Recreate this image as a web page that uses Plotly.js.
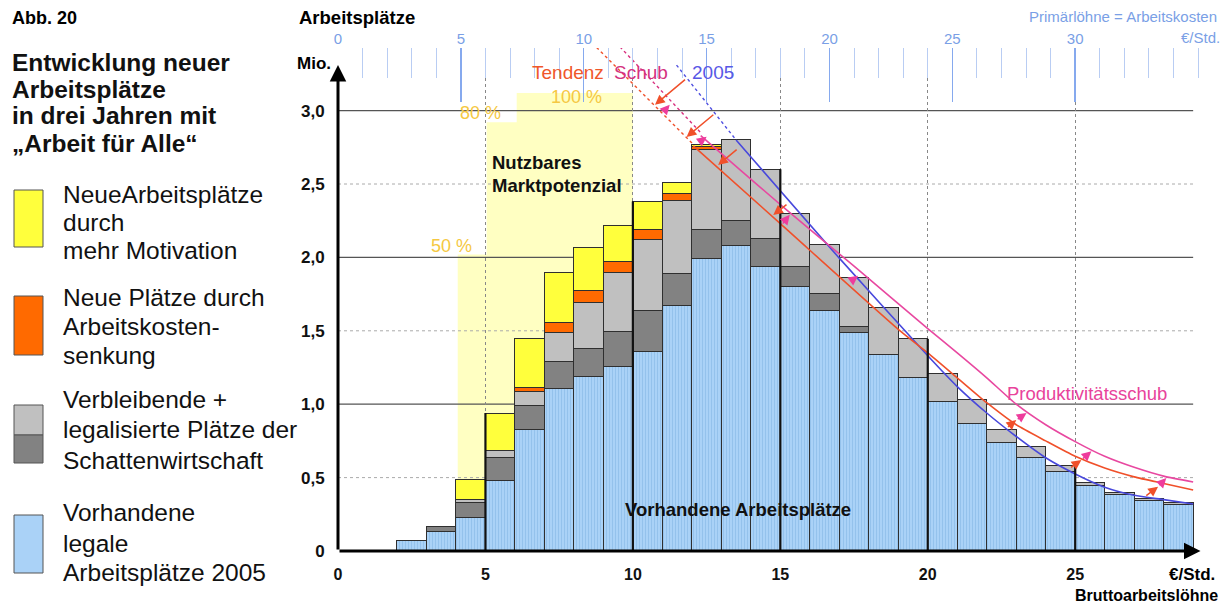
<!DOCTYPE html>
<html><head><meta charset="utf-8">
<script src="https://cdn.plot.ly/plotly-3.0.1.min.js"></script>
<style>html,body{margin:0;padding:0;background:#fff}#chart{width:1222px;height:604px}</style>
</head><body><div id="chart"></div>
<script>
// ---------- data ----------
const lohnVon = [2,3,4,5,6,7,8,9,10,11,12,13,14,15,16,17,18,19,20,21,22,23,24,25,26,27,28];
const vorhanden = [0.07,0.13,0.23,0.48,0.83,1.11,1.19,1.26,1.36,1.67,1.99,2.08,1.94,1.80,1.64,1.49,1.34,1.18,1.02,0.87,0.74,0.64,0.54,0.445,0.385,0.345,0.32];
const schatten = [0,0.035,0.10,0.155,0.16,0.18,0.19,0.235,0.275,0.22,0.20,0.17,0.19,0.14,0.115,0.04,0,0,0,0,0,0,0,0,0,0,0];
const verbleibend = [0,0.005,0.02,0.05,0.095,0.20,0.31,0.40,0.49,0.50,0.545,0.55,0.47,0.36,0.33,0.33,0.32,0.265,0.19,0.16,0.09,0.07,0.045,0.02,0.012,0.01,0.01];
const kostensenkung = [0,0,0,0,0.03,0.065,0.085,0.08,0.065,0.045,0.023,0,0,0,0,0,0,0,0,0,0,0,0,0,0,0,0];
const motivation = [0,0,0.14,0.255,0.33,0.345,0.29,0.245,0.19,0.075,0.01,0,0,0,0,0,0,0,0,0,0,0,0,0,0,0,0];

const yTickVals = [0,0.5,1,1.5,2,2.5,3];
const yTickText = ['0','0,5','1,0','1,5','2,0','2,5','3,0'];
const xTickVals = [0,5,10,15,20,25];
const xTickText = ['0','5','10','15','20','25'];
const topTickVals = [0,5,10,15,20,25,30];
const topTickText = ['0','5','10','15','20','25','30'];

// Kurven
const kurve2005DashX = [11.48,13.5];
const kurve2005DashY = [3.31,2.80];
const kurve2005X = [13.5,17,20,21,22,23,24,25,26,27,28,29];
const kurve2005Y = [2.80,1.995,1.33,1.12,0.94,0.78,0.635,0.525,0.435,0.38,0.35,0.32];
const tendenzDashX = [8.77,12.05];
const tendenzDashY = [3.43,2.77];
const tendenzX = [12.05,15,19,20,21,22,23,24,25,26,27,28,29];
const tendenzY = [2.76,2.23,1.51,1.35,1.18,1.01,0.86,0.75,0.645,0.565,0.505,0.46,0.416];
const schubDashX = [9.56,12.3];
const schubDashY = [3.435,2.85];
const schubX = [12.3,15,17.5,20,21,22,23,24,25,26,27,28,29];
const schubY = [2.83,2.36,1.94,1.515,1.35,1.18,1.0,0.86,0.745,0.645,0.57,0.51,0.47];

// Pfeile [xVon, yVon, xNach, yNach]
const pfeileTendenz = [[11.82,3.22,10.75,3.04],[12.78,2.98,11.82,2.82],[13.57,2.743,12.89,2.63],[15.26,2.368,14.76,2.289],
  [22.67,0.836,23.0,0.892],[24.81,0.563,25.21,0.62],[27.36,0.37,27.81,0.438]];
const pfeileSchub = [[11.03,2.99,11.25,3.04],[12.21,2.777,12.5,2.822],[15.04,2.22,15.32,2.29],[17.36,1.834,17.64,1.875],
  [23.0,0.892,23.35,0.94],[25.21,0.62,25.55,0.68],[27.81,0.438,28.09,0.497]];

// ---------- layout helpers ----------
const W=1222,H=604,L=338,R=20,T=48,B=53;
const PW=W-L-R, PH=H-T-B;
const px=(x)=>(x-L)/PW, py=(y)=>(H-B-y)/PH;
const FONT='Liberation Sans, Arial, sans-serif';
function txt(text,x,y,o={}){
  return {xref:'paper',yref:'paper',x:px(x),y:py(y),text:text,showarrow:false,
    xanchor:o.xa||'left',yanchor:'middle',
    font:{family:FONT,size:o.size||15,color:o.color||'#000',weight:o.bold?'bold':'normal'}};
}

const nn = a => a.map(v => v===0?null:v);
const barBase = {type:'bar',x:lohnVon,width:1,offset:0,hoverinfo:'skip'};
const traces = [
  Object.assign({},barBase,{y:vorhanden,name:'Vorhandene legale Arbeitsplätze 2005',
    marker:{color:'#aad2f7',line:{color:'#2f2f2f',width:1},
      pattern:{shape:'|',size:3,solidity:0.25,fgcolor:'#8cbce8',bgcolor:'#aad2f7',fillmode:'replace'}}}),
  Object.assign({},barBase,{y:nn(schatten),name:'legalisierte Plätze der Schattenwirtschaft',
    marker:{color:'#828282',line:{color:'#2f2f2f',width:1}}}),
  Object.assign({},barBase,{y:nn(verbleibend),name:'Verbleibende',
    marker:{color:'#c0c0c0',line:{color:'#2f2f2f',width:1}}}),
  Object.assign({},barBase,{y:nn(kostensenkung),name:'Neue Plätze durch Arbeitskostensenkung',
    marker:{color:'#ff6a00',line:{color:'#2f2f2f',width:1}}}),
  Object.assign({},barBase,{y:nn(motivation),name:'NeueArbeitsplätze durch mehr Motivation',
    marker:{color:'#ffff3c',line:{color:'#2f2f2f',width:1}}}),
  {type:'scatter',mode:'lines',x:tendenzDashX,y:tendenzDashY,line:{color:'#f0502a',width:1.4,dash:'dot'},hoverinfo:'skip'},
  {type:'scatter',mode:'lines',x:schubDashX,y:schubDashY,line:{color:'#d8307f',width:1.4,dash:'dot'},hoverinfo:'skip'},
  {type:'scatter',mode:'lines',x:kurve2005DashX,y:kurve2005DashY,line:{color:'#5050e0',width:1.4,dash:'dot'},hoverinfo:'skip'},
  {type:'scatter',mode:'lines',x:kurve2005X,y:kurve2005Y,line:{color:'#4848dc',width:1.6,shape:'spline',smoothing:0.6},hoverinfo:'skip'},
  {type:'scatter',mode:'lines',x:tendenzX,y:tendenzY,line:{color:'#f0502a',width:1.6,shape:'spline',smoothing:0.6},hoverinfo:'skip'},
  {type:'scatter',mode:'lines',x:schubX,y:schubY,line:{color:'#e848a0',width:1.6,shape:'spline',smoothing:0.6},hoverinfo:'skip'},
  {type:'scatter',mode:'markers',x:topTickVals,y:topTickVals.map(()=>0),xaxis:'x2',yaxis:'y',marker:{opacity:0},hoverinfo:'skip'}
];

const totals = lohnVon.map((_,i)=>vorhanden[i]+schatten[i]+verbleibend[i]+kostensenkung[i]+motivation[i]);

const shapes = [];
shapes.push({type:'path',xref:'x',yref:'y',layer:'below',
  path:'M4.06,0 L4.06,2.02 L5.04,2.02 L5.04,2.92 L6.06,2.92 L6.06,3.12 L10,3.12 L10,0 Z',
  fillcolor:'#ffffc2',line:{width:0}});
yTickVals.filter(v=>v>0).forEach(v=>{
  const major = Number.isInteger(v);
  shapes.push({type:'line',xref:'x',yref:'y',layer:'below',x0:0,x1:29,y0:v,y1:v,
    line:{color:major?'#555':'#aaa',width:major?1.2:1,dash:major?'solid':'dot'}});
});
xTickVals.filter(v=>v>0).forEach(v=>{
  const i = lohnVon.indexOf(v);
  const top = Math.max(totals[i]||0, totals[i-1]||0);
  shapes.push({type:'line',xref:'x',yref:'y',layer:'above',x0:v,x1:v,y0:0,y1:top,line:{color:'#111',width:2.2}});
});
const box=(y0,y1,c)=>({type:'rect',xref:'paper',yref:'paper',x0:px(14),x1:px(43),y0:py(y1),y1:py(y0),fillcolor:c,line:{color:'#555',width:1}});
shapes.push(box(190,247,'#ffff3c'));
shapes.push(box(296,355,'#ff6a00'));
shapes.push(box(405,435,'#c0c0c0'));
shapes.push(box(435,463,'#828282'));
shapes.push(box(515,573,'#aad2f7'));

const ann = [];
ann.push({xref:'x',yref:'y',axref:'x',ayref:'y',x:0,y:3.31,ax:0,ay:0,text:'',showarrow:true,arrowhead:2,arrowsize:1.1,arrowwidth:3,arrowcolor:'#000',standoff:0});
ann.push({xref:'x',yref:'y',axref:'x',ayref:'y',x:29.25,y:0,ax:0,ay:0,text:'',showarrow:true,arrowhead:2,arrowsize:1.1,arrowwidth:3,arrowcolor:'#000',standoff:0});
pfeileTendenz.forEach(p=>ann.push({xref:'x',yref:'y',axref:'x',ayref:'y',x:p[2],y:p[3],ax:p[0],ay:p[1],text:'',showarrow:true,arrowhead:2,arrowsize:1.3,arrowwidth:1.5,arrowcolor:'#f0502a',standoff:0}));
pfeileSchub.forEach(p=>ann.push({xref:'x',yref:'y',axref:'x',ayref:'y',x:p[2],y:p[3],ax:p[0],ay:p[1],text:'',showarrow:true,arrowhead:2,arrowsize:1.3,arrowwidth:1.5,arrowcolor:'#ee3c9c',standoff:0}));

ann.push(txt('Abb. 20',10,18,{bold:true,size:18}));
['Entwicklung neuer','Arbeitsplätze','in drei Jahren mit','„Arbeit für Alle“'].forEach((t,i)=>ann.push(txt(t,10,62+i*27,{bold:true,size:24.5,color:'#111'})));
[['NeueArbeitsplätze',194],['durch',222],['mehr Motivation',250],
 ['Neue Plätze durch',297],['Arbeitskosten-',326],['senkung',355],
 ['Verbleibende +',399],['legalisierte Plätze der',429],['Schattenwirtschaft',460],
 ['Vorhandene',512],['legale',543],['Arbeitsplätze 2005',572]].forEach(a=>ann.push(txt(a[0],61,a[1],{size:24.5,color:'#111'})));
ann.push(txt('Arbeitsplätze',297,18,{bold:true,size:18.5}));
ann.push(txt('Mio.',295,63,{bold:true,size:17}));
ann.push(txt('Primärlöhne = Arbeitskosten',1219,17,{xa:'right',size:15,color:'#7a9fe6'}));
ann.push(txt('€/Std.',1222,38,{xa:'right',size:15,color:'#7a9fe6'}));
ann.push(txt('€/Std.',1192,574,{xa:'center',bold:true,size:17}));
ann.push(txt('Bruttoarbeitslöhne',1220,595,{xa:'right',bold:true,size:16}));
ann.push(txt('Tendenz',530,73,{size:19,color:'#f0572a'}));
ann.push(txt('Schub',612,73,{size:19,color:'#d4317f'}));
ann.push(txt('2005',690,73,{size:19,color:'#5858e6'}));
ann.push(txt('100 %',576,97,{xa:'center',size:18,color:'#f5c842'}));
ann.push(txt('80 %',480,113,{xa:'center',size:18,color:'#f5c842'}));
ann.push(txt('50 %',451,246,{xa:'center',size:18,color:'#f5c842'}));
ann.push(txt('Nutzbares',490,162,{bold:true,size:18.5,color:'#111'}));
ann.push(txt('Marktpotenzial',490,186,{bold:true,size:18.5,color:'#111'}));
ann.push(txt('Vorhandene Arbeitsplätze',738,509,{xa:'center',bold:true,size:18.5,color:'#111'}));
ann.push(txt('Produktivitätsschub',1005,393,{size:18.5,color:'#e8439b'}));

const layout = {
  width:W,height:H,margin:{l:L,r:R,t:T,b:B},
  paper_bgcolor:'#fff',plot_bgcolor:'rgba(0,0,0,0)',
  showlegend:false,barmode:'stack',bargap:0,
  font:{family:FONT},
  xaxis:{range:[0,29.3],tickvals:xTickVals,ticktext:xTickText,showgrid:true,gridcolor:'#888',griddash:'dot',gridwidth:1,
    zeroline:false,showline:false,ticks:'outside',ticklen:9,tickcolor:'rgba(0,0,0,0)',
    tickfont:{family:FONT,size:16,weight:'bold',color:'#111'},fixedrange:true},
  xaxis2:{overlaying:'x',side:'top',anchor:'y',range:[0,29.3*1.2],tickvals:topTickVals,ticktext:topTickText,
    showgrid:false,zeroline:false,showline:false,ticks:'inside',ticklen:54,tickwidth:1.5,tickcolor:'#86a9ee',
    tickfont:{family:FONT,size:15,color:'#7a9fe6'},
    minor:{dtick:1,tick0:0,ticks:'inside',ticklen:30,tickwidth:1,tickcolor:'#b9cdf3',showgrid:false}},
  yaxis:{range:[0,PH/146.8],tickvals:yTickVals,ticktext:yTickText,showgrid:false,zeroline:false,showline:false,
    ticks:'outside',ticklen:9,tickcolor:'rgba(0,0,0,0)',tickfont:{family:FONT,size:17,weight:'bold',color:'#111'},fixedrange:true},
  shapes:shapes,annotations:ann
};
Plotly.newPlot('chart',traces,layout,{staticPlot:true,displayModeBar:false});
</script></body></html>
